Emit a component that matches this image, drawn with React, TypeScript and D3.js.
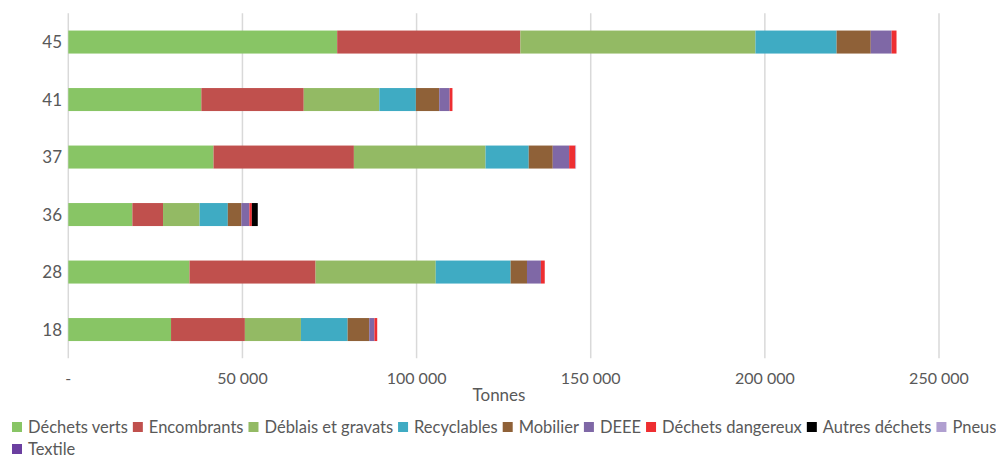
import React, { useEffect, useRef } from 'react';
import * as d3 from 'd3';

// Collectes par déchèterie (tonnes)
const categories = ['45', '41', '37', '36', '28', '18'];
const seriesNames = [
  'Déchets verts', 'Encombrants', 'Déblais et gravats', 'Recyclables', 'Mobilier',
  'DEEE', 'Déchets dangereux', 'Autres déchets', 'Pneus', 'Textile',
];
const seriesColors = [
  '#88c565', '#c0504d', '#93ba64', '#3fabc3', '#8f6138',
  '#7f68a6', '#ee2e31', '#000000', '#b09fd0', '#6b3fa0',
];
const dechetsVerts = [77200, 38200, 41700, 18400, 34800, 29500];
const encombrants = [52600, 29400, 40300, 8800, 36200, 21200];
const deblais = [67500, 21700, 37800, 10500, 34500, 16100];
const recyclables = [23300, 10500, 12400, 8100, 21500, 13400];
const mobilier = [9800, 6700, 6900, 3900, 4700, 6200];
const deee = [6000, 3000, 4700, 2300, 4000, 1500];
const dangereux = [1400, 800, 1800, 700, 1100, 800];
const autres = [0, 0, 0, 1700, 0, 0];
const pneus = [0, 0, 200, 0, 0, 0];
const textile = [0, 0, 0, 0, 0, 0];
const xTicks = [0, 50000, 100000, 150000, 200000, 250000];

const seriesValues = [dechetsVerts, encombrants, deblais, recyclables, mobilier, deee, dangereux, autres, pneus, textile];

const W = 996;
const H = 459;
const FONT = 'Lato, "Open Sans", sans-serif';

const App: React.FC = () => {
  const svgRef = useRef<SVGSVGElement>(null);

  useEffect(() => {
    document.body.style.margin = '0';
    if (!svgRef.current) return;
    const svg = d3.select(svgRef.current);
    svg.selectAll('*').remove();

    const left = 68.3, right = 939, top = 13.3, bottom = 358.3;

    const x = d3.scaleLinear().domain([0, 250000]).range([left, right]);
    const y = d3.scaleBand().domain(categories).range([top, bottom]).paddingInner(0.6).paddingOuter(0.3);

    // gridlines
    svg.append('g')
      .selectAll('line')
      .data(xTicks)
      .join('line')
      .attr('x1', d => x(d)).attr('x2', d => x(d))
      .attr('y1', top).attr('y2', bottom)
      .attr('stroke', '#d9d9d9')
      .attr('stroke-width', 1.5);

    const rows = categories.map((c, i) => {
      const r: any = { cat: c };
      seriesNames.forEach((s, j) => { r[s] = seriesValues[j][i]; });
      return r;
    });
    const stacked = d3.stack<any>().keys(seriesNames)(rows);

    svg.append('g')
      .selectAll('g')
      .data(stacked)
      .join('g')
      .attr('fill', (_, i) => seriesColors[i])
      .selectAll('rect')
      .data(d => d)
      .join('rect')
      .attr('x', d => x(d[0]))
      .attr('width', d => Math.max(0, x(d[1]) - x(d[0])))
      .attr('y', d => y(d.data.cat) as number)
      .attr('height', y.bandwidth());

    // category labels
    svg.append('g')
      .selectAll('text')
      .data(categories)
      .join('text')
      .attr('x', 62)
      .attr('y', d => (y(d) as number) + y.bandwidth() / 2)
      .attr('dy', '0.35em')
      .attr('text-anchor', 'end')
      .attr('fill', '#595959')
      .style('font-family', FONT)
      .style('font-size', '17px')
      .text(d => d);

    // x tick labels
    const fmt = (v: number) => v === 0 ? '-' : d3.format(',')(v).replace(/,/g, ' ');
    svg.append('g')
      .selectAll('text')
      .data(xTicks)
      .join('text')
      .attr('x', d => x(d))
      .attr('y', 378)
      .attr('dy', '0.35em')
      .attr('text-anchor', 'middle')
      .attr('fill', '#595959')
      .style('font-family', FONT)
      .style('font-size', '16px')
      .text(fmt);

    svg.append('text')
      .attr('x', 499)
      .attr('y', 395)
      .attr('dy', '0.35em')
      .attr('text-anchor', 'middle')
      .attr('fill', '#595959')
      .style('font-family', FONT)
      .style('font-size', '17px')
      .text('Tonnes');

    // legend with wrapping
    const legend = svg.append('g');
    let lx = 12;
    let ly = 427;
    seriesNames.forEach((name, i) => {
      const item = legend.append('g');
      const t = item.append('text')
        .attr('x', 16)
        .attr('dy', '0.35em')
        .attr('fill', '#595959')
        .style('font-family', FONT)
        .style('font-size', '16.5px')
        .text(name);
      const w = 16 + (t.node() as SVGTextElement).getComputedTextLength();
      if (lx + w > W + 4) {
        lx = 12;
        ly += 22;
      }
      item.attr('transform', `translate(${lx},${ly})`);
      item.append('rect')
        .attr('x', 0).attr('y', -5)
        .attr('width', 10).attr('height', 10)
        .attr('fill', seriesColors[i]);
      lx += w + 5;
    });
  }, []);

  return <svg ref={svgRef} width={W} height={H} style={{ display: 'block', background: '#fff' }} />;
};

export default App;
